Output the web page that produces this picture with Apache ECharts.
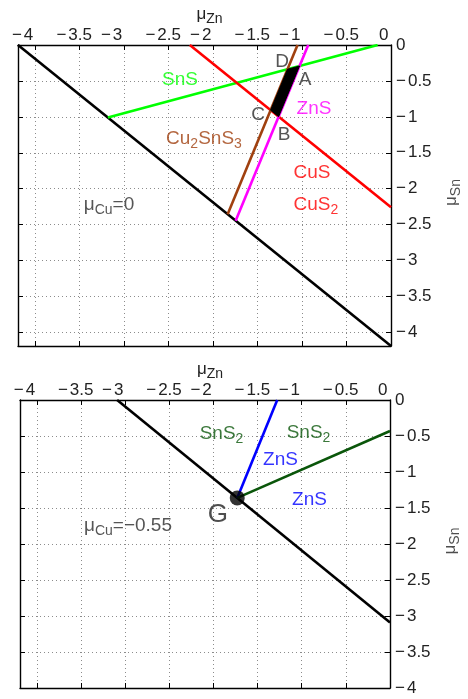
<!DOCTYPE html>
<html><head><meta charset="utf-8">
<script src="https://cdn.jsdelivr.net/npm/echarts@6/dist/echarts.min.js"></script>
<style>html,body{margin:0;padding:0;background:#fff}#c{width:468px;height:699px}</style>
</head><body><div id="c"></div>
<script>
// ---- tick values ----
const xTickValues = [-4, -3.5, -3, -2.5, -2, -1.5, -1, -0.5, 0];
const yTickValues = [0, -0.5, -1, -1.5, -2, -2.5, -3, -3.5, -4];
const xRange = [-4.19, 0];
const yRangeTop = [-4.19, 0];
const yRangeBottom = [-4, 0];

// ---- panel 1: mu_Cu = 0 ----
const cztsLimitTop = [[-4.19, 0], [0, -4.19]];
const snsLine = [[-3.18, -1.01], [-0.15, 0]];
const cusLine = [[-2.26, 0], [0, -2.26]];
const ctsLine = [[-1.835, -2.355], [-1.05, 0]];
const znsLineTop = [[-1.745, -2.445], [-0.93, 0]];
const regionABCD = [[-1.0275, -0.2925], [-1.2625, -0.9975], [-1.3525, -0.9075], [-1.1625, -0.3375]];

// ---- panel 2: mu_Cu = -0.55 ----
const cztsLimitBottom = [[-3.09, 0], [0, -3.09]];
const znsLineBottom = [[-1.73, -1.36], [-1.277, 0]];
const sns2Line = [[-1.73, -1.36], [0, -0.43]];
const pointG = [[-1.73, -1.36]];

// ---- annotations: [text, x, y, kind] ----
const notesTop = [
  ['SnS', -2.37, -0.487, 'sns'],
  ['D', -1.224, -0.237, 'vertex'],
  ['A', -0.966, -0.487, 'vertex'],
  ['ZnS', -0.865, -0.891, 'zns'],
  ['C', -1.494, -0.974, 'vertex'],
  ['B', -1.202, -1.253, 'vertex'],
  ['Cu_{2}SnS_{3}', -2.101, -1.308, 'cts'],
  ['CuS', -0.887, -1.782, 'cus'],
  ['CuS_{2}', -0.843, -2.234, 'cus'],
  ['μ_{Cu}=0', -3.168, -2.235, 'cond']
];
const notesBottom = [
  ['SnS_{2}', -1.908, -0.472, 'sns2'],
  ['SnS_{2}', -0.923, -0.458, 'sns2'],
  ['ZnS', -1.240, -0.833, 'znsB'],
  ['ZnS', -0.912, -1.389, 'znsB'],
  ['G', -1.948, -1.556, 'point'],
  ['μ_{Cu}=−0.55', -2.967, -1.757, 'cond']
];
const yAxisTitle = 'μ_{Sn}';
const xAxisTitle = 'μ_{Zn}';

const FONT = '"Liberation Sans", Arial, Helvetica, sans-serif';
const TXT = '#222';
const kindStyle = {
  sns: {color: '#00ff00', size: 19},
  vertex: {color: '#2a2a2a', size: 19},
  zns: {color: '#ff00ff', size: 19},
  cts: {color: '#a0400f', size: 19},
  cus: {color: '#ff0000', size: 19},
  cond: {color: '#2a2a2a', size: 19},
  sns2: {color: '#0a560a', size: 19},
  znsB: {color: '#0000ff', size: 19},
  point: {color: '#222', size: 26}
};

function toRich(t) {
  return t.split(/_\{([^}]*)\}/).map((p, i) => p === '' ? '' : (i % 2 ? '{s|' + p + '}' : '{m|' + p + '}')).join('');
}
function minusFmt(v) {
  let s = String(Math.round(v * 10) / 10);
  return s.replace('-', '−');
}
const TICK_FS = 17;
const tickRich = {
  n: {align: 'left', fontSize: TICK_FS, fontFamily: FONT, color: TXT, padding: [0, 2, 0, 0]},
  d: {align: 'left', fontSize: TICK_FS, fontFamily: FONT, color: TXT},
  z: {align: 'left', fontSize: TICK_FS, fontFamily: FONT, color: TXT, padding: [0, 0, 0, 11]}
};
function tickRichFmt(v) {
  const s = minusFmt(v);
  return s[0] === '−' ? '{n|−}{d|' + s.slice(1) + '}' : '{z|' + s + '}';
}
function yTickFmt(v) {
  const s = minusFmt(v);
  return s[0] === '−' ? '{n|−}{d|' + s.slice(1) + '}' : '{d|' + s + '}';
}

const grids = [
  {left: 18, top: 45, width: 373, height: 301},
  {left: 20, top: 400, width: 370, height: 288}
];
const nameRich = {
  m: {fontSize: 17, fontFamily: FONT, fill: TXT, color: TXT, lineHeight: 18, verticalAlign: 'top'},
  s: {fontSize: 14, fontFamily: FONT, fill: TXT, color: TXT, lineHeight: 14, padding: [9, 0, 0, 0]}
};
const gridLine = {show: true, lineStyle: {color: '#8c8c8c', type: [1, 3], width: 1}};
const axisLineStyle = {onZero: false, lineStyle: {color: '#000', width: 1.4}};
const tickStyle = {inside: true, length: 5, lineStyle: {color: '#000', width: 1}};

const xAxes = [], yAxes = [];
[0, 1].forEach(g => {
  const yr = g === 0 ? yRangeTop : yRangeBottom;
  xAxes.push({
    gridIndex: g, type: 'value', position: 'top', min: xRange[0], max: xRange[1],
    name: toRich(xAxisTitle), nameLocation: 'middle', nameGap: 17,
    nameTextStyle: {rich: nameRich, padding: [0, 0, 0, 10]},
    axisLine: axisLineStyle,
    axisTick: Object.assign({customValues: xTickValues}, tickStyle),
    axisLabel: {
      customValues: xTickValues, margin: 1, width: 46, align: 'center',
      fontSize: TICK_FS, fontFamily: FONT, color: TXT,
      formatter: tickRichFmt, rich: tickRich
    },
    splitLine: gridLine
  });
  xAxes.push({
    gridIndex: g, type: 'value', position: 'bottom', min: xRange[0], max: xRange[1],
    axisLine: axisLineStyle,
    axisTick: Object.assign({customValues: xTickValues}, tickStyle),
    axisLabel: {show: false}, splitLine: {show: false}
  });
  yAxes.push({
    gridIndex: g, type: 'value', position: 'right', min: yr[0], max: yr[1],
    axisLine: axisLineStyle,
    axisTick: Object.assign({customValues: yTickValues}, tickStyle),
    axisLabel: {customValues: yTickValues, margin: 5, fontSize: TICK_FS, fontFamily: FONT, color: TXT, formatter: yTickFmt, rich: tickRich},
    splitLine: gridLine
  });
  yAxes.push({
    gridIndex: g, type: 'value', position: 'left', min: yr[0], max: yr[1],
    axisLine: axisLineStyle,
    axisTick: Object.assign({customValues: yTickValues}, tickStyle),
    axisLabel: {show: false}, splitLine: {show: false}
  });
});

// y-axis title: rotated label anchored 61px right of each panel's right axis, at mid-height
function yTitleSeries(g) {
  const gr = grids[g];
  const yr = g === 0 ? yRangeTop : yRangeBottom;
  const ppuX = gr.width / (xRange[1] - xRange[0]);
  const ppuY = gr.height / (yr[1] - yr[0]);
  const anchor = [xRange[1] + 61 / ppuX, (yr[0] + yr[1]) / 2 + 3 / ppuY];
  return {
    type: 'scatter', xAxisIndex: g * 2, yAxisIndex: g * 2, symbolSize: 0, clip: false, silent: true, animation: false, z: 10,
    data: [anchor],
    label: {show: true, position: 'inside', rotate: 90, formatter: toRich(yAxisTitle), rich: nameRich}
  };
}

function lineSeries(data, color, g) {
  return {
    type: 'line', xAxisIndex: g * 2, yAxisIndex: g * 2, data: data,
    showSymbol: false, symbol: 'none', silent: true, animation: false,
    lineStyle: {color: color, width: 2.6}, z: 3
  };
}
function noteSeries(notes, g) {
  return {
    type: 'scatter', xAxisIndex: g * 2, yAxisIndex: g * 2, symbolSize: 0, silent: true, animation: false, z: 10,
    data: notes.map(n => ({
      value: [n[1], n[2]],
      label: {
        show: true, position: 'inside', formatter: toRich(n[0]),
        rich: {
          m: {fontSize: kindStyle[n[3]].size, fontFamily: FONT, color: kindStyle[n[3]].color, lineHeight: 20, verticalAlign: 'top'},
          s: {fontSize: 14, fontFamily: FONT, color: kindStyle[n[3]].color, lineHeight: 14, padding: [10, 0, 0, 0]}
        }
      }
    }))
  };
}

const option = {
  animation: false,
  grid: grids,
  xAxis: xAxes,
  yAxis: yAxes,
  series: [
    lineSeries(cztsLimitTop, '#000', 0),
    lineSeries(snsLine, '#00ff00', 0),
    lineSeries(cusLine, '#ff0000', 0),
    lineSeries(ctsLine, '#a0400f', 0),
    lineSeries(znsLineTop, '#ff00ff', 0),
    {
      type: 'custom', xAxisIndex: 0, yAxisIndex: 0, z: 5, silent: true, animation: false,
      data: [regionABCD[0]],
      renderItem: (params, api) => ({
        type: 'polygon',
        shape: {points: regionABCD.map(p => api.coord(p))},
        style: {fill: '#000', stroke: '#000', lineWidth: 1}
      })
    },
    noteSeries(notesTop, 0),
    yTitleSeries(0),
    lineSeries(cztsLimitBottom, '#000', 1),
    lineSeries(znsLineBottom, '#0000ff', 1),
    lineSeries(sns2Line, '#0a560a', 1),
    {
      type: 'scatter', xAxisIndex: 2, yAxisIndex: 2, data: pointG, symbolSize: 15, z: 6,
      itemStyle: {color: '#000'}, silent: true, animation: false
    },
    noteSeries(notesBottom, 1),
    yTitleSeries(1)
  ]
};
const chart = echarts.init(document.getElementById('c'), null, {renderer: 'canvas', width: 468, height: 699});
chart.setOption(option);
</script></body></html>
